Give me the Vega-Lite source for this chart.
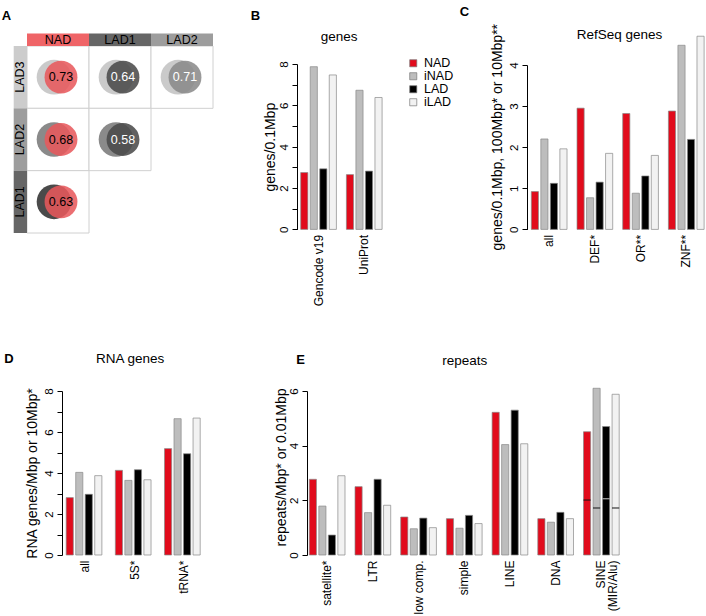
{
  "$schema": "https://vega.github.io/schema/vega-lite/v6.json",
  "padding": {"left": 1, "top": 5, "right": 0, "bottom": 0},
  "config": {
    "font": "Liberation Sans",
    "view": {"stroke": null},
    "axis": {"labelFont": "Liberation Sans", "titleFont": "Liberation Sans", "labelColor": "#000", "titleColor": "#000", "titleFontWeight": "normal", "tickColor": "#000", "domainColor": "#000", "grid": false, "labelFontSize": 12, "titleFontSize": 14},
    "title": {"font": "Liberation Sans", "color": "#000"}
  },
  "resolve": {"scale": {"color": "independent"}, "legend": {"color": "independent"}},
  "spacing": 45,
  "vconcat": [
    {
      "hconcat": [
        {
          "width": 186, "height": 187,
          "title": {"text": "A", "anchor": "start", "frame": "group", "dx": -25.3, "offset": 0, "fontSize": 13, "fontWeight": "bold", "baseline": "alphabetic"},
          "layer": [
            {
              "data": {"values": [
                {"col": "NAD", "row": "LAD3", "score": 0.73},
                {"col": "LAD1", "row": "LAD3", "score": 0.64},
                {"col": "LAD2", "row": "LAD3", "score": 0.71},
                {"col": "NAD", "row": "LAD2", "score": 0.68},
                {"col": "LAD1", "row": "LAD2", "score": 0.58},
                {"col": "NAD", "row": "LAD1", "score": 0.63}
              ]},
              "encoding": {
                "x": {"field": "col", "type": "nominal", "scale": {"domain": ["NAD", "LAD1", "LAD2"], "paddingInner": 0, "paddingOuter": 0}, "axis": null},
                "y": {"field": "row", "type": "nominal", "scale": {"domain": ["LAD3", "LAD2", "LAD1"], "paddingInner": 0, "paddingOuter": 0}, "axis": null}
              },
              "layer": [
                {"mark": {"type": "rect", "fill": "#ffffff", "stroke": "#d0d0d0", "strokeWidth": 1}},
                {"mark": {"type": "circle", "size": 1200, "opacity": 1, "xOffset": -4},
                  "encoding": {"color": {"field": "row", "type": "nominal", "scale": {"domain": ["NAD", "LAD1", "LAD2", "LAD3"], "range": ["#e8585c", "#4a4a4a", "#8a8a8a", "#cacaca"]}, "legend": null}}},
                {"mark": {"type": "circle", "size": 1080, "opacity": 0.87, "xOffset": 3},
                  "encoding": {"color": {"field": "col", "type": "nominal", "scale": {"domain": ["NAD", "LAD1", "LAD2", "LAD3"], "range": ["#e8585c", "#4a4a4a", "#7a7a7a", "#cacaca"]}, "legend": null}}},
                {"mark": {"type": "text", "xOffset": 3, "fontSize": 12.5},
                  "encoding": {"text": {"field": "score", "type": "quantitative", "format": ".2f"},
                    "color": {"condition": {"test": "datum.col !== 'NAD'", "value": "#ffffff"}, "value": "#000000"}}}
              ]
            },
            {
              "data": {"values": [
                {"set": "NAD", "strip": "top"},
                {"set": "LAD1", "strip": "top"},
                {"set": "LAD2", "strip": "top"}
              ]},
              "encoding": {
                "x": {"field": "set", "type": "nominal", "scale": {"domain": ["NAD", "LAD1", "LAD2"], "paddingInner": 0, "paddingOuter": 0}, "axis": null},
                "y": {"field": "strip", "type": "nominal", "scale": {"domain": ["top"], "range": [-12.6, 0], "paddingInner": 0, "paddingOuter": 0}, "axis": null}
              },
              "layer": [
                {"mark": {"type": "rect"},
                  "encoding": {"fill": {"field": "set", "type": "nominal", "scale": {"domain": ["NAD", "LAD1", "LAD2", "LAD3"], "range": ["#ef6467", "#666666", "#9d9d9d", "#cccccc"]}, "legend": null}}},
                {"mark": {"type": "text", "fontSize": 12.5, "color": "#000", "dy": 0.5},
                  "encoding": {"text": {"field": "set", "type": "nominal"}}}
              ]
            },
            {
              "data": {"values": [
                {"set": "LAD3", "strip": "left"},
                {"set": "LAD2", "strip": "left"},
                {"set": "LAD1", "strip": "left"}
              ]},
              "encoding": {
                "y": {"field": "set", "type": "nominal", "scale": {"domain": ["LAD3", "LAD2", "LAD1"], "paddingInner": 0, "paddingOuter": 0}, "axis": null},
                "x": {"field": "strip", "type": "nominal", "scale": {"domain": ["left"], "range": [-13.3, 0], "paddingInner": 0, "paddingOuter": 0}, "axis": null}
              },
              "layer": [
                {"mark": {"type": "rect"},
                  "encoding": {"fill": {"field": "set", "type": "nominal", "scale": {"domain": ["NAD", "LAD1", "LAD2", "LAD3"], "range": ["#ef6467", "#666666", "#9d9d9d", "#cccccc"]}, "legend": null}}},
                {"mark": {"type": "text", "fontSize": 12.5, "color": "#000", "angle": 270},
                  "encoding": {"text": {"field": "set", "type": "nominal"}}}
              ]
            }
          ],
          "resolve": {"scale": {"x": "independent", "y": "independent"}}
        },
        {
          "width": 145.7, "height": 183.4,
          "title": {"text": "B", "anchor": "start", "frame": "group", "dx": -46.3, "offset": -3.4, "fontSize": 13, "fontWeight": "bold", "baseline": "alphabetic"},
          "data": {"values": [
            {"group": "Gencode v19", "class": "NAD", "value": 2.75},
            {"group": "Gencode v19", "class": "iNAD", "value": 7.87},
            {"group": "Gencode v19", "class": "LAD", "value": 2.93},
            {"group": "Gencode v19", "class": "iLAD", "value": 7.47},
            {"group": "UniProt", "class": "NAD", "value": 2.65},
            {"group": "UniProt", "class": "iNAD", "value": 6.73},
            {"group": "UniProt", "class": "LAD", "value": 2.82},
            {"group": "UniProt", "class": "iLAD", "value": 6.38}
          ]},
          "layer": [
            {"mark": {"type": "bar", "stroke": "#888888", "strokeWidth": 0.7},
              "encoding": {
                "x": {"field": "group", "type": "nominal", "scale": {"domain": ["Gencode v19", "UniProt"], "paddingInner": 0.2188, "paddingOuter": 0.7035, "align": 0.0575},
                  "axis": {"title": null, "domain": false, "ticks": false, "tickSize": 0, "labelAngle": -90, "labelAlign": "right", "labelBaseline": "middle", "labelPadding": 5, "labelFontSize": 12}},
                "xOffset": {"field": "class", "type": "nominal", "scale": {"domain": ["NAD", "iNAD", "LAD", "iLAD"], "paddingInner": 0.25, "paddingOuter": 0}},
                "y": {"field": "value", "type": "quantitative", "scale": {"domain": [0, 8], "range": [183.4, 18], "nice": false},
                  "axis": {"title": "genes/0.1Mbp", "values": [0, 1, 2, 3, 4, 5, 6, 7, 8], "labelExpr": "datum.value % 2 === 0 ? datum.label : ''", "labelAngle": -90, "labelAlign": "center", "labelBaseline": "alphabetic", "tickSize": 5, "labelPadding": 5, "labelFontSize": 11.5, "labelOverlap": false, "labelFlush": false,
                    "titleX": -26.6, "titleY": 100.7, "titleAngle": 270, "titleAlign": "center", "titleBaseline": "middle"}},
                "color": {"field": "class", "type": "nominal", "scale": {"domain": ["NAD", "iNAD", "LAD", "iLAD"], "range": ["#e10b1c", "#bdbdbd", "#000000", "#f2f2f2"]},
                  "legend": {"orient": "none", "legendX": 110, "legendY": 11, "title": null, "symbolType": "square", "symbolSize": 50, "symbolStrokeColor": "#777777", "symbolStrokeWidth": 0.7, "labelFontSize": 12.5, "labelOffset": 4.5, "rowPadding": -1.5, "padding": 0, "labelColor": "#000"}}
              }},
            {"mark": {"type": "bar", "opacity": 0},
              "encoding": {"x": {"field": "group", "type": "nominal", "axis": {"orient": "top", "title": "genes", "labels": false, "ticks": false, "domain": false, "titleX": 41.7, "titleY": -5.3, "titleAlign": "center", "titleBaseline": "alphabetic", "titleFontSize": 13.5, "titleAngle": 0}}}}
          ],
          "resolve": {"axis": {"x": "independent"}}
        },
        {
          "width": 178, "height": 183.4,
          "title": {"text": "C", "anchor": "start", "frame": "group", "dx": -67.3, "offset": -5.4, "fontSize": 13, "fontWeight": "bold", "baseline": "alphabetic"},
          "data": {"values": [
            {"group": "all", "class": "NAD", "value": 0.92},
            {"group": "all", "class": "iNAD", "value": 2.2},
            {"group": "all", "class": "LAD", "value": 1.12},
            {"group": "all", "class": "iLAD", "value": 1.96},
            {"group": "DEF*", "class": "NAD", "value": 2.95},
            {"group": "DEF*", "class": "iNAD", "value": 0.77},
            {"group": "DEF*", "class": "LAD", "value": 1.15},
            {"group": "DEF*", "class": "iLAD", "value": 1.85},
            {"group": "OR**", "class": "NAD", "value": 2.82},
            {"group": "OR**", "class": "iNAD", "value": 0.88},
            {"group": "OR**", "class": "LAD", "value": 1.3},
            {"group": "OR**", "class": "iLAD", "value": 1.8},
            {"group": "ZNF**", "class": "NAD", "value": 2.88},
            {"group": "ZNF**", "class": "iNAD", "value": 4.48},
            {"group": "ZNF**", "class": "LAD", "value": 2.19},
            {"group": "ZNF**", "class": "iLAD", "value": 4.7}
          ]},
          "layer": [
            {"mark": {"type": "bar", "stroke": "#888888", "strokeWidth": 0.7},
              "encoding": {
                "x": {"field": "group", "type": "nominal", "scale": {"domain": ["all", "DEF*", "OR**", "ZNF**"], "paddingInner": 0.2188, "paddingOuter": 0.0569, "align": 0.83},
                  "axis": {"title": null, "domain": false, "ticks": false, "tickSize": 0, "labelAngle": -90, "labelAlign": "right", "labelBaseline": "middle", "labelPadding": 5, "labelFontSize": 12}},
                "xOffset": {"field": "class", "type": "nominal", "scale": {"domain": ["NAD", "iNAD", "LAD", "iLAD"], "paddingInner": 0.25, "paddingOuter": 0}},
                "y": {"field": "value", "type": "quantitative", "scale": {"domain": [0, 4], "range": [183.4, 19], "nice": false},
                  "axis": {"title": "genes/0.1Mbp, 100Mbp* or 10Mbp**", "values": [0, 1, 2, 3, 4], "labelAngle": -90, "labelAlign": "center", "labelBaseline": "alphabetic", "tickSize": 5, "labelPadding": 5, "labelFontSize": 11.5, "labelOverlap": false, "labelFlush": false,
                    "titleX": -30, "titleY": 90.7, "titleAngle": 270, "titleAlign": "center", "titleBaseline": "middle"}},
                "color": {"field": "class", "type": "nominal", "scale": {"domain": ["NAD", "iNAD", "LAD", "iLAD"], "range": ["#e10b1c", "#bdbdbd", "#000000", "#f2f2f2"]}, "legend": null}
              }},
            {"mark": {"type": "bar", "opacity": 0},
              "encoding": {"x": {"field": "group", "type": "nominal", "axis": {"orient": "top", "title": "RefSeq genes", "labels": false, "ticks": false, "domain": false, "titleX": 92, "titleY": -7.3, "titleAlign": "center", "titleBaseline": "alphabetic", "titleFontSize": 13.5, "titleAngle": 0}}}}
          ],
          "resolve": {"axis": {"x": "independent"}}
        }
      ],
      "spacing": 84,
      "bounds": "flush",
      "resolve": {"scale": {"color": "independent"}, "legend": {"color": "independent"}}
    },
    {
      "hconcat": [
        {"width": 24.4, "height": 164, "data": {"values": []}, "mark": "point"},
        {
          "width": 235, "height": 164,
          "title": {"text": "D", "anchor": "start", "frame": "group", "dx": -57.7, "offset": -25, "fontSize": 13, "fontWeight": "bold", "baseline": "alphabetic"},
          "data": {"values": [
            {"group": "all", "class": "NAD", "value": 2.8},
            {"group": "all", "class": "iNAD", "value": 4.03},
            {"group": "all", "class": "LAD", "value": 2.96},
            {"group": "all", "class": "iLAD", "value": 3.87},
            {"group": "5S*", "class": "NAD", "value": 4.13},
            {"group": "5S*", "class": "iNAD", "value": 3.64},
            {"group": "5S*", "class": "LAD", "value": 4.16},
            {"group": "5S*", "class": "iLAD", "value": 3.67},
            {"group": "tRNA*", "class": "NAD", "value": 5.19},
            {"group": "tRNA*", "class": "iNAD", "value": 6.65},
            {"group": "tRNA*", "class": "LAD", "value": 4.94},
            {"group": "tRNA*", "class": "iLAD", "value": 6.68}
          ]},
          "layer": [
            {"mark": {"type": "bar", "stroke": "#888888", "strokeWidth": 0.7},
              "encoding": {
                "x": {"field": "group", "type": "nominal", "scale": {"domain": ["all", "5S*", "tRNA*"], "paddingInner": 0.2188, "paddingOuter": 1.1805, "align": 0.0426},
                  "axis": {"title": null, "domain": false, "ticks": false, "tickSize": 0, "labelAngle": -90, "labelAlign": "right", "labelBaseline": "middle", "labelPadding": 5, "labelFontSize": 12}},
                "xOffset": {"field": "class", "type": "nominal", "scale": {"domain": ["NAD", "iNAD", "LAD", "iLAD"], "paddingInner": 0.25, "paddingOuter": 0}},
                "y": {"field": "value", "type": "quantitative", "scale": {"domain": [0, 8], "nice": false},
                  "axis": {"title": "RNA genes/Mbp or 10Mbp*", "values": [0, 1, 2, 3, 4, 5, 6, 7, 8], "labelExpr": "datum.value % 2 === 0 ? datum.label : ''", "labelAngle": -90, "labelAlign": "center", "labelBaseline": "alphabetic", "tickSize": 5, "labelPadding": 5, "labelFontSize": 11.5, "labelOverlap": false, "labelFlush": false,
                    "titleX": -29.7, "titleY": 82, "titleAngle": 270, "titleAlign": "center", "titleBaseline": "middle"}},
                "color": {"field": "class", "type": "nominal", "scale": {"domain": ["NAD", "iNAD", "LAD", "iLAD"], "range": ["#e10b1c", "#bdbdbd", "#000000", "#f2f2f2"]}, "legend": null}
              }},
            {"mark": {"type": "bar", "opacity": 0},
              "encoding": {"x": {"field": "group", "type": "nominal", "axis": {"orient": "top", "title": "RNA genes", "labels": false, "ticks": false, "domain": false, "titleX": 67.6, "titleY": -28.7, "titleAlign": "center", "titleBaseline": "alphabetic", "titleFontSize": 13.5, "titleAngle": 0}}}}
          ],
          "resolve": {"axis": {"x": "independent"}}
        },
        {
          "width": 320, "height": 164,
          "title": {"text": "E", "anchor": "start", "frame": "group", "dx": -10.7, "offset": -24, "fontSize": 13, "fontWeight": "bold", "baseline": "alphabetic"},
          "data": {"values": [
            {"group": "satellite*", "class": "NAD", "value": 2.77},
            {"group": "satellite*", "class": "iNAD", "value": 1.79},
            {"group": "satellite*", "class": "LAD", "value": 0.73},
            {"group": "satellite*", "class": "iLAD", "value": 2.9},
            {"group": "LTR", "class": "NAD", "value": 2.5},
            {"group": "LTR", "class": "iNAD", "value": 1.55},
            {"group": "LTR", "class": "LAD", "value": 2.77},
            {"group": "LTR", "class": "iLAD", "value": 1.82},
            {"group": "low comp.", "class": "NAD", "value": 1.39},
            {"group": "low comp.", "class": "iNAD", "value": 0.96},
            {"group": "low comp.", "class": "LAD", "value": 1.35},
            {"group": "low comp.", "class": "iLAD", "value": 1.0},
            {"group": "simple", "class": "NAD", "value": 1.33},
            {"group": "simple", "class": "iNAD", "value": 0.98},
            {"group": "simple", "class": "LAD", "value": 1.45},
            {"group": "simple", "class": "iLAD", "value": 1.15},
            {"group": "LINE", "class": "NAD", "value": 5.22},
            {"group": "LINE", "class": "iNAD", "value": 4.04},
            {"group": "LINE", "class": "LAD", "value": 5.3},
            {"group": "LINE", "class": "iLAD", "value": 4.07},
            {"group": "DNA", "class": "NAD", "value": 1.33},
            {"group": "DNA", "class": "iNAD", "value": 1.2},
            {"group": "DNA", "class": "LAD", "value": 1.56},
            {"group": "DNA", "class": "iLAD", "value": 1.33},
            {"group": "SINE (MIR/Alu)", "class": "NAD", "value": 4.51, "mir": 2.01},
            {"group": "SINE (MIR/Alu)", "class": "iNAD", "value": 6.1, "mir": 1.72},
            {"group": "SINE (MIR/Alu)", "class": "LAD", "value": 4.7, "mir": 2.06},
            {"group": "SINE (MIR/Alu)", "class": "iLAD", "value": 5.88, "mir": 1.72}
          ]},
          "layer": [
            {"mark": {"type": "bar", "stroke": "#888888", "strokeWidth": 0.7},
              "encoding": {
                "x": {"field": "group", "type": "nominal", "scale": {"domain": ["satellite*", "LTR", "low comp.", "simple", "LINE", "DNA", "SINE (MIR/Alu)"], "paddingInner": 0.2188, "paddingOuter": 0.1105, "align": 0.228},
                  "axis": {"title": null, "domain": false, "ticks": false, "tickSize": 0, "labelAngle": -90, "labelAlign": "right", "labelBaseline": "middle", "labelPadding": 5, "labelFontSize": 12, "labelLineHeight": 12,
                    "labelExpr": "datum.value === 'SINE (MIR/Alu)' ? ['SINE', '(MIR/Alu)'] : datum.label"}},
                "xOffset": {"field": "class", "type": "nominal", "scale": {"domain": ["NAD", "iNAD", "LAD", "iLAD"], "paddingInner": 0.25, "paddingOuter": 0}},
                "y": {"field": "value", "type": "quantitative", "scale": {"domain": [0, 6], "nice": false},
                  "axis": {"title": "repeats/Mbp* or 0.01Mbp", "values": [0, 1, 2, 3, 4, 5, 6], "labelAngle": -90, "labelAlign": "center", "labelBaseline": "alphabetic", "tickSize": 5, "labelPadding": 5, "labelFontSize": 11.5, "labelOverlap": false, "labelFlush": false,
                    "titleX": -26, "titleY": 76, "titleAngle": 270, "titleAlign": "center", "titleBaseline": "middle"}},
                "color": {"field": "class", "type": "nominal", "scale": {"domain": ["NAD", "iNAD", "LAD", "iLAD"], "range": ["#e10b1c", "#bdbdbd", "#000000", "#f2f2f2"]}, "legend": null}
              }},
            {"transform": [{"filter": "isValid(datum.mir)"}],
              "mark": {"type": "tick", "orient": "horizontal", "thickness": 1.4, "size": 7.2},
              "encoding": {
                "x": {"field": "group", "type": "nominal", "axis": null},
                "xOffset": {"field": "class", "type": "nominal"},
                "y": {"field": "mir", "type": "quantitative"},
                "color": {"condition": {"test": "datum['class'] === 'LAD'", "value": "#d0d0d0"}, "value": "#111111"}
              }},
            {"mark": {"type": "bar", "opacity": 0},
              "encoding": {"x": {"field": "group", "type": "nominal", "axis": {"orient": "top", "title": "repeats", "labels": false, "ticks": false, "domain": false, "titleX": 157.3, "titleY": -26.7, "titleAlign": "center", "titleBaseline": "alphabetic", "titleFontSize": 13.5, "titleAngle": 0}}}}
          ],
          "resolve": {"axis": {"x": "independent"}}
        }
      ],
      "spacing": 10,
      "bounds": "flush",
      "resolve": {"scale": {"color": "independent"}, "legend": {"color": "independent"}}
    }
  ]
}
